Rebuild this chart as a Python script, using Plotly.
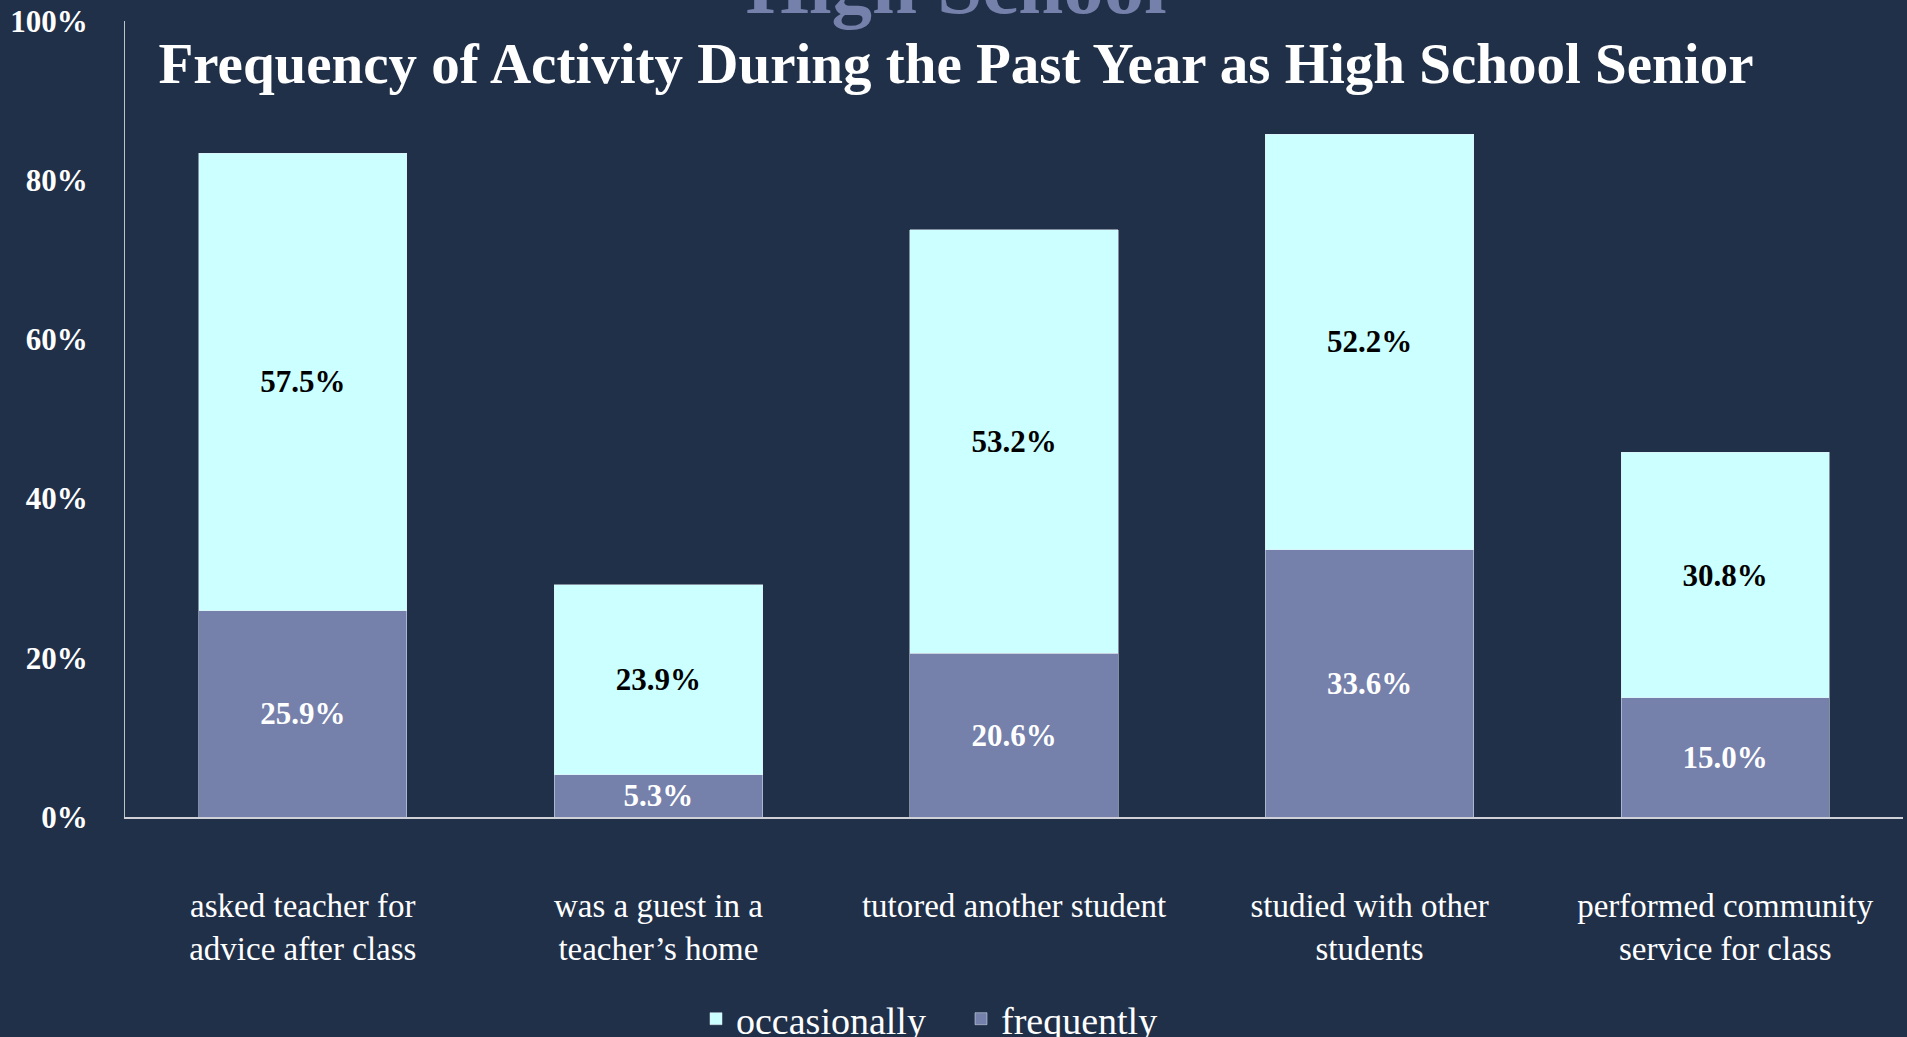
import plotly.graph_objects as go

categories = [
    "asked teacher for<br>advice after class",
    "was a guest in a<br>teacher\u2019s home",
    "tutored another student",
    "studied with other<br>students",
    "performed community<br>service for class",
]
frequently = [25.9, 5.3, 20.6, 33.6, 15.0]
occasionally = [57.5, 23.9, 53.2, 52.2, 30.8]
y_ticks = [0, 20, 40, 60, 80, 100]
y_tick_labels = ["0%", "20%", "40%", "60%", "80%", "100%"]

BG = "#213049"
LIGHT = "#CCFFFF"
SLATE = "#7580AB"
FONT = "Liberation Serif"

W, H = 1907, 1037
ML, MR, MT, MB = 125, 4, 21, 220
PW, PH = W - ML - MR, H - MT - MB

x_idx = list(range(len(categories)))

fig = go.Figure()
fig.add_trace(go.Bar(
    name="frequently", x=x_idx, y=frequently, marker_color=SLATE,
    text=[f"{v:.1f}%" for v in frequently], textposition="inside",
    insidetextanchor="middle", textangle=0,
    textfont=dict(family=FONT, size=31, color="white", weight=700),
))
fig.add_trace(go.Bar(
    name="occasionally", x=x_idx, y=occasionally, marker_color=LIGHT,
    text=[f"{v:.1f}%" for v in occasionally], textposition="inside",
    insidetextanchor="middle", textangle=0,
    textfont=dict(family=FONT, size=31, color="black", weight=700),
))

fig.update_layout(
    barmode="stack",
    bargap=0.414,
    width=W, height=H,
    paper_bgcolor=BG, plot_bgcolor=BG,
    margin=dict(l=ML, r=MR, t=MT, b=MB),
    uniformtext=dict(minsize=31, mode="show"),
    font=dict(family=FONT, color="white"),
    title=dict(
        text="Frequency of Activity During the Past Year as High School Senior",
        font=dict(family=FONT, size=57, color="white", weight=700),
        x=956 / W, xanchor="center", xref="container",
        y=1 - 63 / H, yanchor="middle", yref="container",
    ),
    legend=dict(
        orientation="h", traceorder="reversed",
        x=961 / W, xanchor="center", xref="container",
        y=1 - 1019 / H, yanchor="middle", yref="container",
        font=dict(family=FONT, size=38, color="white"),
        bgcolor="rgba(0,0,0,0)",
        entrywidth=220, entrywidthmode="pixels",
    ),
    xaxis=dict(
        tickmode="array", tickvals=x_idx, ticktext=categories,
        range=[-0.5, len(categories) - 0.5],
        showline=True, linecolor="#D0D0D8", linewidth=2,
        showgrid=False, zeroline=False, ticks="",
        tickfont=dict(family=FONT, size=33, color="white"),
        ticklabelstandoff=58,
    ),
    yaxis=dict(
        range=[0, 100], tickmode="array", tickvals=y_ticks, ticktext=y_tick_labels,
        showline=True, linecolor="#C0C0C8", linewidth=1,
        showgrid=False, zeroline=False, ticks="",
        tickfont=dict(family=FONT, size=31, color="white", weight=700),
        ticklabelstandoff=30,
    ),
    annotations=[dict(
        text="High School", xref="paper", yref="paper",
        x=(956 - ML) / PW, xanchor="center", y=(H - MB - 33) / PH, yanchor="bottom",
        showarrow=False,
        font=dict(family=FONT, size=81, color=SLATE, weight=700),
    )],
)

fig.write_html(
    "out.html",
    config={"displayModeBar": False},
    post_script="document.body.style.margin='0';document.body.style.overflow='hidden';",
)
